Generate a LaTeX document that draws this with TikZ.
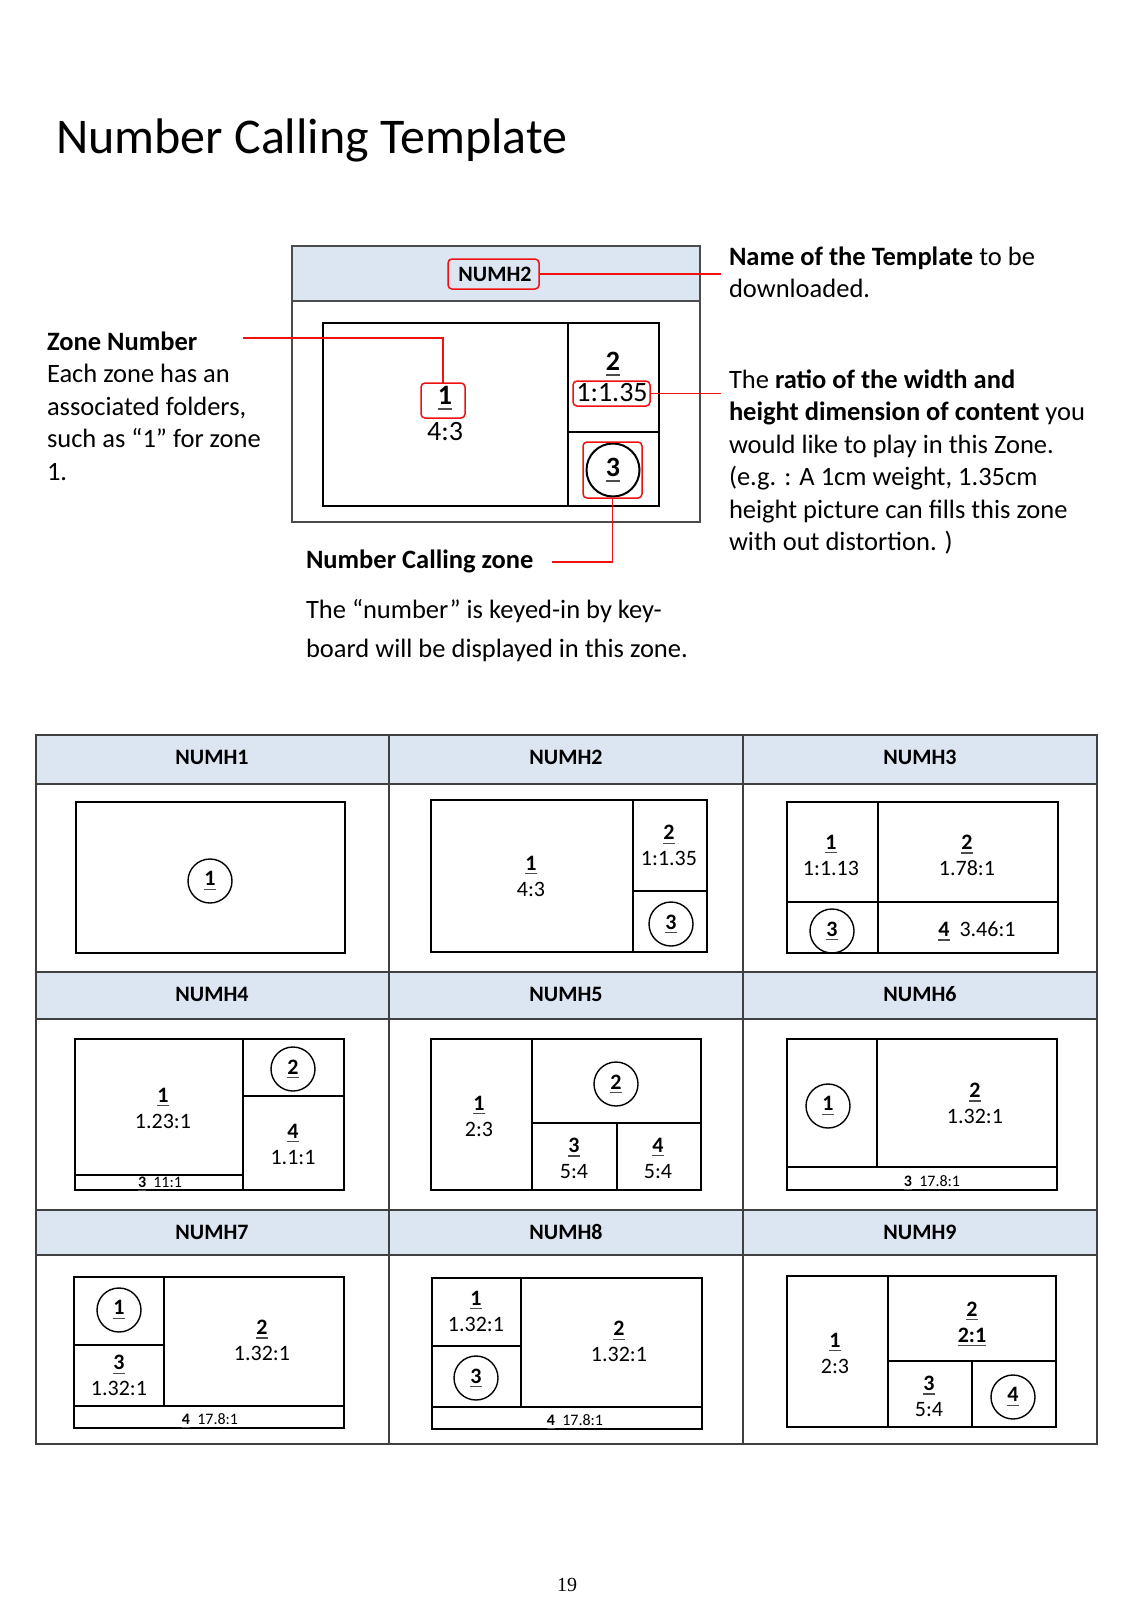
\documentclass[tikz,border=0pt]{standalone}
\usepackage{fontspec}
\setmainfont{Carlito}
\newfontfamily\pagefont{Liberation Serif}
\definecolor{hdrblue}{HTML}{DCE6F2}
\definecolor{callred}{HTML}{F01010}
\newcommand\zd[1]{\leavevmode\setbox0\hbox{\textbf{#1}}\rlap{\color{black!70}\rule[-0.2em]{\wd0}{0.06em}}\box0}
\tikzset{
  grid/.style={draw=black!75, line width=1.2pt},
  zonebox/.style={draw=black, line width=2pt},
  hdrtext/.style={font=\bfseries\fontsize{22}{26}\selectfont},
  zlab/.style={font=\fontsize{22}{26}\selectfont, align=center},
  zsmall/.style={font=\fontsize{16}{19}\selectfont},
  zcirc/.style={circle, draw=black, line width=1.4pt, minimum size=44pt, font=\fontsize{22}{26}\selectfont},
  biglab/.style={font=\fontsize{28}{33}\selectfont},
  redbox/.style={draw=callred, line width=1.5pt, rounded corners=4pt},
  redline/.style={draw=callred, line width=1.5pt},
  bodytext/.style={font=\fontsize{26.5}{32.5}\selectfont, align=left, anchor=north west},
}
\begin{document}
\begin{tikzpicture}[x=1pt,y=-1pt, every node/.style={inner sep=0pt, outer sep=0pt}]
\fill[white] (0,0) rectangle (1132,1601);
\useasboundingbox (0,0) rectangle (1132,1601);

% title
\node[anchor=base west, font=\fontsize{50}{60}\selectfont] (title) at (56,153) {Number Calling Template};

% ---------- top example diagram ----------
\fill[hdrblue] (292,246) rectangle (700,301);
\draw[draw=black!70, line width=1.5pt] (292,246) rectangle (700,522);
\draw[draw=black!70, line width=1.5pt] (292,301) -- (700,301);
\draw[zonebox, line width=2.4pt] (323,323) rectangle (659,506);
\draw[zonebox, line width=2.4pt] (568,323) -- (568,506);
\draw[zonebox, line width=2.4pt] (568,432) -- (659,432);

\node[hdrtext] (tname) at (495,274) {NUMH2};
\node[redbox, minimum width=91pt, minimum height=30pt] (rbname) at (493.5,274) {};
\node[biglab] (tz1) at (445,398) {\zd{1}};
\node[biglab] (tz1r) at (445,432) {4:3};
\node[redbox, minimum width=44pt, minimum height=35pt] (rbone) at (443,400.5) {};
\node[biglab] (tz2) at (613,364) {\zd{2}};
\node[biglab] (tz2r) at (612,393) {1:1.35};
\node[redbox, minimum width=77pt, minimum height=25pt] (rbtwo) at (611.5,393.5) {};
\node[circle, draw=black, line width=2pt, minimum size=53pt, font=\fontsize{28}{33}\selectfont] (tz3) at (613,470) {\zd{3}};
\node[redbox, minimum width=59pt, minimum height=56pt] (rbthree) at (612.5,470) {};

\coordinate (rightend) at (721,0);
\coordinate (zonestart) at (243,338);
\coordinate (ncend) at (552,562);
\draw[redline] (rbname.east) -- (rbname.east -| rightend);
\draw[redline] (rbtwo.east) -- (rbtwo.east -| rightend);
\draw[redline] (zonestart) -- (zonestart -| rbone.north) -- (rbone.north);
\draw[redline] (rbthree.south) -- (rbthree.south |- ncend) -- (ncend);

% explanations
\node[bodytext] (zonetxt) at (47,327.5) {\strut\textbf{Zone Number}\\Each zone has an\\associated folders,\\such as “1” for zone\\1.};
\node[bodytext] (nametxt) at (729,242.25) {\strut\textbf{Name of the Template} to be\\downloaded.};
\node[bodytext] (ratiotxt) at (729,365.25) {\strut The \textbf{ratio of the width and}\\\textbf{height dimension of content} you\\would like to play in this Zone.\\(e.g. : A 1cm weight, 1.35cm\\height picture can fills this zone\\with out distortion. )};
\node[anchor=base west, font=\bfseries\fontsize{26.5}{32.5}\selectfont] (nctitle) at (306,568) {Number Calling zone};
\node[bodytext, font=\fontsize{26.5}{38.5}\selectfont] (nctxt) at (306,592) {\strut The “number” is keyed-in by key-\\board will be displayed in this zone.};

% ---------- table ----------
\fill[hdrblue] (36,735) rectangle (1097,784);
\fill[hdrblue] (36,972) rectangle (1097,1019);
\fill[hdrblue] (36,1210) rectangle (1097,1255);
\draw[grid] (36,735) rectangle (1097,1444);
\foreach \yy in {784,972,1019,1210,1255} \draw[grid] (36,\yy) -- (1097,\yy);
\draw[grid] (389,735) -- (389,1444);
\draw[grid] (743,735) -- (743,1444);

\node[hdrtext] (h1) at (212,757) {NUMH1};
\node[hdrtext] (h2) at (566,757) {NUMH2};
\node[hdrtext] (h3) at (920,757) {NUMH3};
\node[hdrtext] (h4) at (212,994) {NUMH4};
\node[hdrtext] (h5) at (566,994) {NUMH5};
\node[hdrtext] (h6) at (920,994) {NUMH6};
\node[hdrtext] (h7) at (212,1232) {NUMH7};
\node[hdrtext] (h8) at (566,1232) {NUMH8};
\node[hdrtext] (h9) at (920,1232) {NUMH9};

% NUMH1
\draw[zonebox] (76,802) rectangle (345,953);
\node[zcirc] (a1) at (210,881) {\zd{1}};

% NUMH2
\draw[zonebox] (431,800) rectangle (707,952);
\draw[zonebox] (633,800) -- (633,952);
\draw[zonebox] (633,891) -- (707,891);
\node[zlab] (b1) at (531,876) {\zd{1}\\4:3};
\node[zlab] (b2) at (669,845.5) {\zd{2}\\1:1.35};
\node[zcirc] (b3) at (671,924) {\zd{3}};

% NUMH3
\draw[zonebox] (787,802) rectangle (1058,953);
\draw[zonebox] (878,802) -- (878,953);
\draw[zonebox] (787,902) -- (1058,902);
\node[zlab] (c1) at (831,855) {\zd{1}\\1:1.13};
\node[zlab] (c2) at (967,855) {\zd{2}\\1.78:1};
\node[zcirc] (c3) at (832,931) {\zd{3}};
\node[zlab] (c4) at (977,931) {\zd{4}\hspace{0.45em}3.46:1};

% NUMH4
\draw[zonebox] (75,1039) rectangle (344,1190);
\draw[zonebox] (243,1039) -- (243,1190);
\draw[zonebox] (243,1096) -- (344,1096);
\draw[zonebox] (75,1175) -- (243,1175);
\node[zcirc] (d2) at (293,1069) {\zd{2}};
\node[zlab] (d4) at (293,1144) {\zd{4}\\1.1:1};
\node[zlab] (d1) at (163,1108) {\zd{1}\\1.23:1};
\node[zsmall] (d3) at (160,1184) {\zd{3}\hspace{0.45em}11:1};

% NUMH5
\draw[zonebox] (431,1039) rectangle (701,1190);
\draw[zonebox] (532,1039) -- (532,1190);
\draw[zonebox] (532,1123) -- (701,1123);
\draw[zonebox] (617,1123) -- (617,1190);
\node[zcirc] (e2) at (616,1084) {\zd{2}};
\node[zlab] (e1) at (479,1116) {\zd{1}\\2:3};
\node[zlab] (e3) at (574,1158) {\zd{3}\\5:4};
\node[zlab] (e4) at (658,1158) {\zd{4}\\5:4};

% NUMH6
\draw[zonebox] (787,1039) rectangle (1057,1190);
\draw[zonebox] (877,1039) -- (877,1167);
\draw[zonebox] (787,1167) -- (1057,1167);
\node[zcirc] (f1) at (828,1106) {\zd{1}};
\node[zlab] (f2) at (975,1103) {\zd{2}\\1.32:1};
\node[zsmall] (f3) at (932,1183) {\zd{3}\hspace{0.45em}17.8:1};

% NUMH7
\draw[zonebox] (74,1277) rectangle (344,1428);
\draw[zonebox] (164,1277) -- (164,1406);
\draw[zonebox] (74,1345) -- (164,1345);
\draw[zonebox] (74,1406) -- (344,1406);
\node[zcirc] (g1) at (119,1310) {\zd{1}};
\node[zlab] (g3) at (119,1375.5) {\zd{3}\\1.32:1};
\node[zlab] (g2) at (262,1340) {\zd{2}\\1.32:1};
\node[zsmall] (g4) at (210,1421) {\zd{4}\hspace{0.45em}17.8:1};

% NUMH8
\draw[zonebox] (432,1278) rectangle (702,1429);
\draw[zonebox] (521,1278) -- (521,1407);
\draw[zonebox] (432,1346) -- (521,1346);
\draw[zonebox] (432,1407) -- (702,1407);
\node[zlab] (k1) at (476,1311) {\zd{1}\\1.32:1};
\node[zcirc] (k3) at (476,1378) {\zd{3}};
\node[zlab] (k2) at (619,1341.5) {\zd{2}\\1.32:1};
\node[zsmall] (k4) at (575,1422) {\zd{4}\hspace{0.45em}17.8:1};

% NUMH9
\draw[zonebox] (787,1276) rectangle (1056,1427);
\draw[zonebox] (888,1276) -- (888,1427);
\draw[zonebox] (888,1361) -- (1056,1361);
\draw[zonebox] (972,1361) -- (972,1427);
\node[zlab] (m1) at (835,1353) {\zd{1}\\2:3};
\node[zlab] (m2) at (972,1324) {\zd{2}\\\zd{2:1}};
\node[zlab] (m3) at (929,1396) {\zd{3}\\5:4};
\node[zcirc] (m4) at (1013,1397) {\zd{4}};

% page number
\node[font=\pagefont\fontsize{20}{24}\selectfont] (pg) at (567,1585) {19};
\end{tikzpicture}
\end{document}
